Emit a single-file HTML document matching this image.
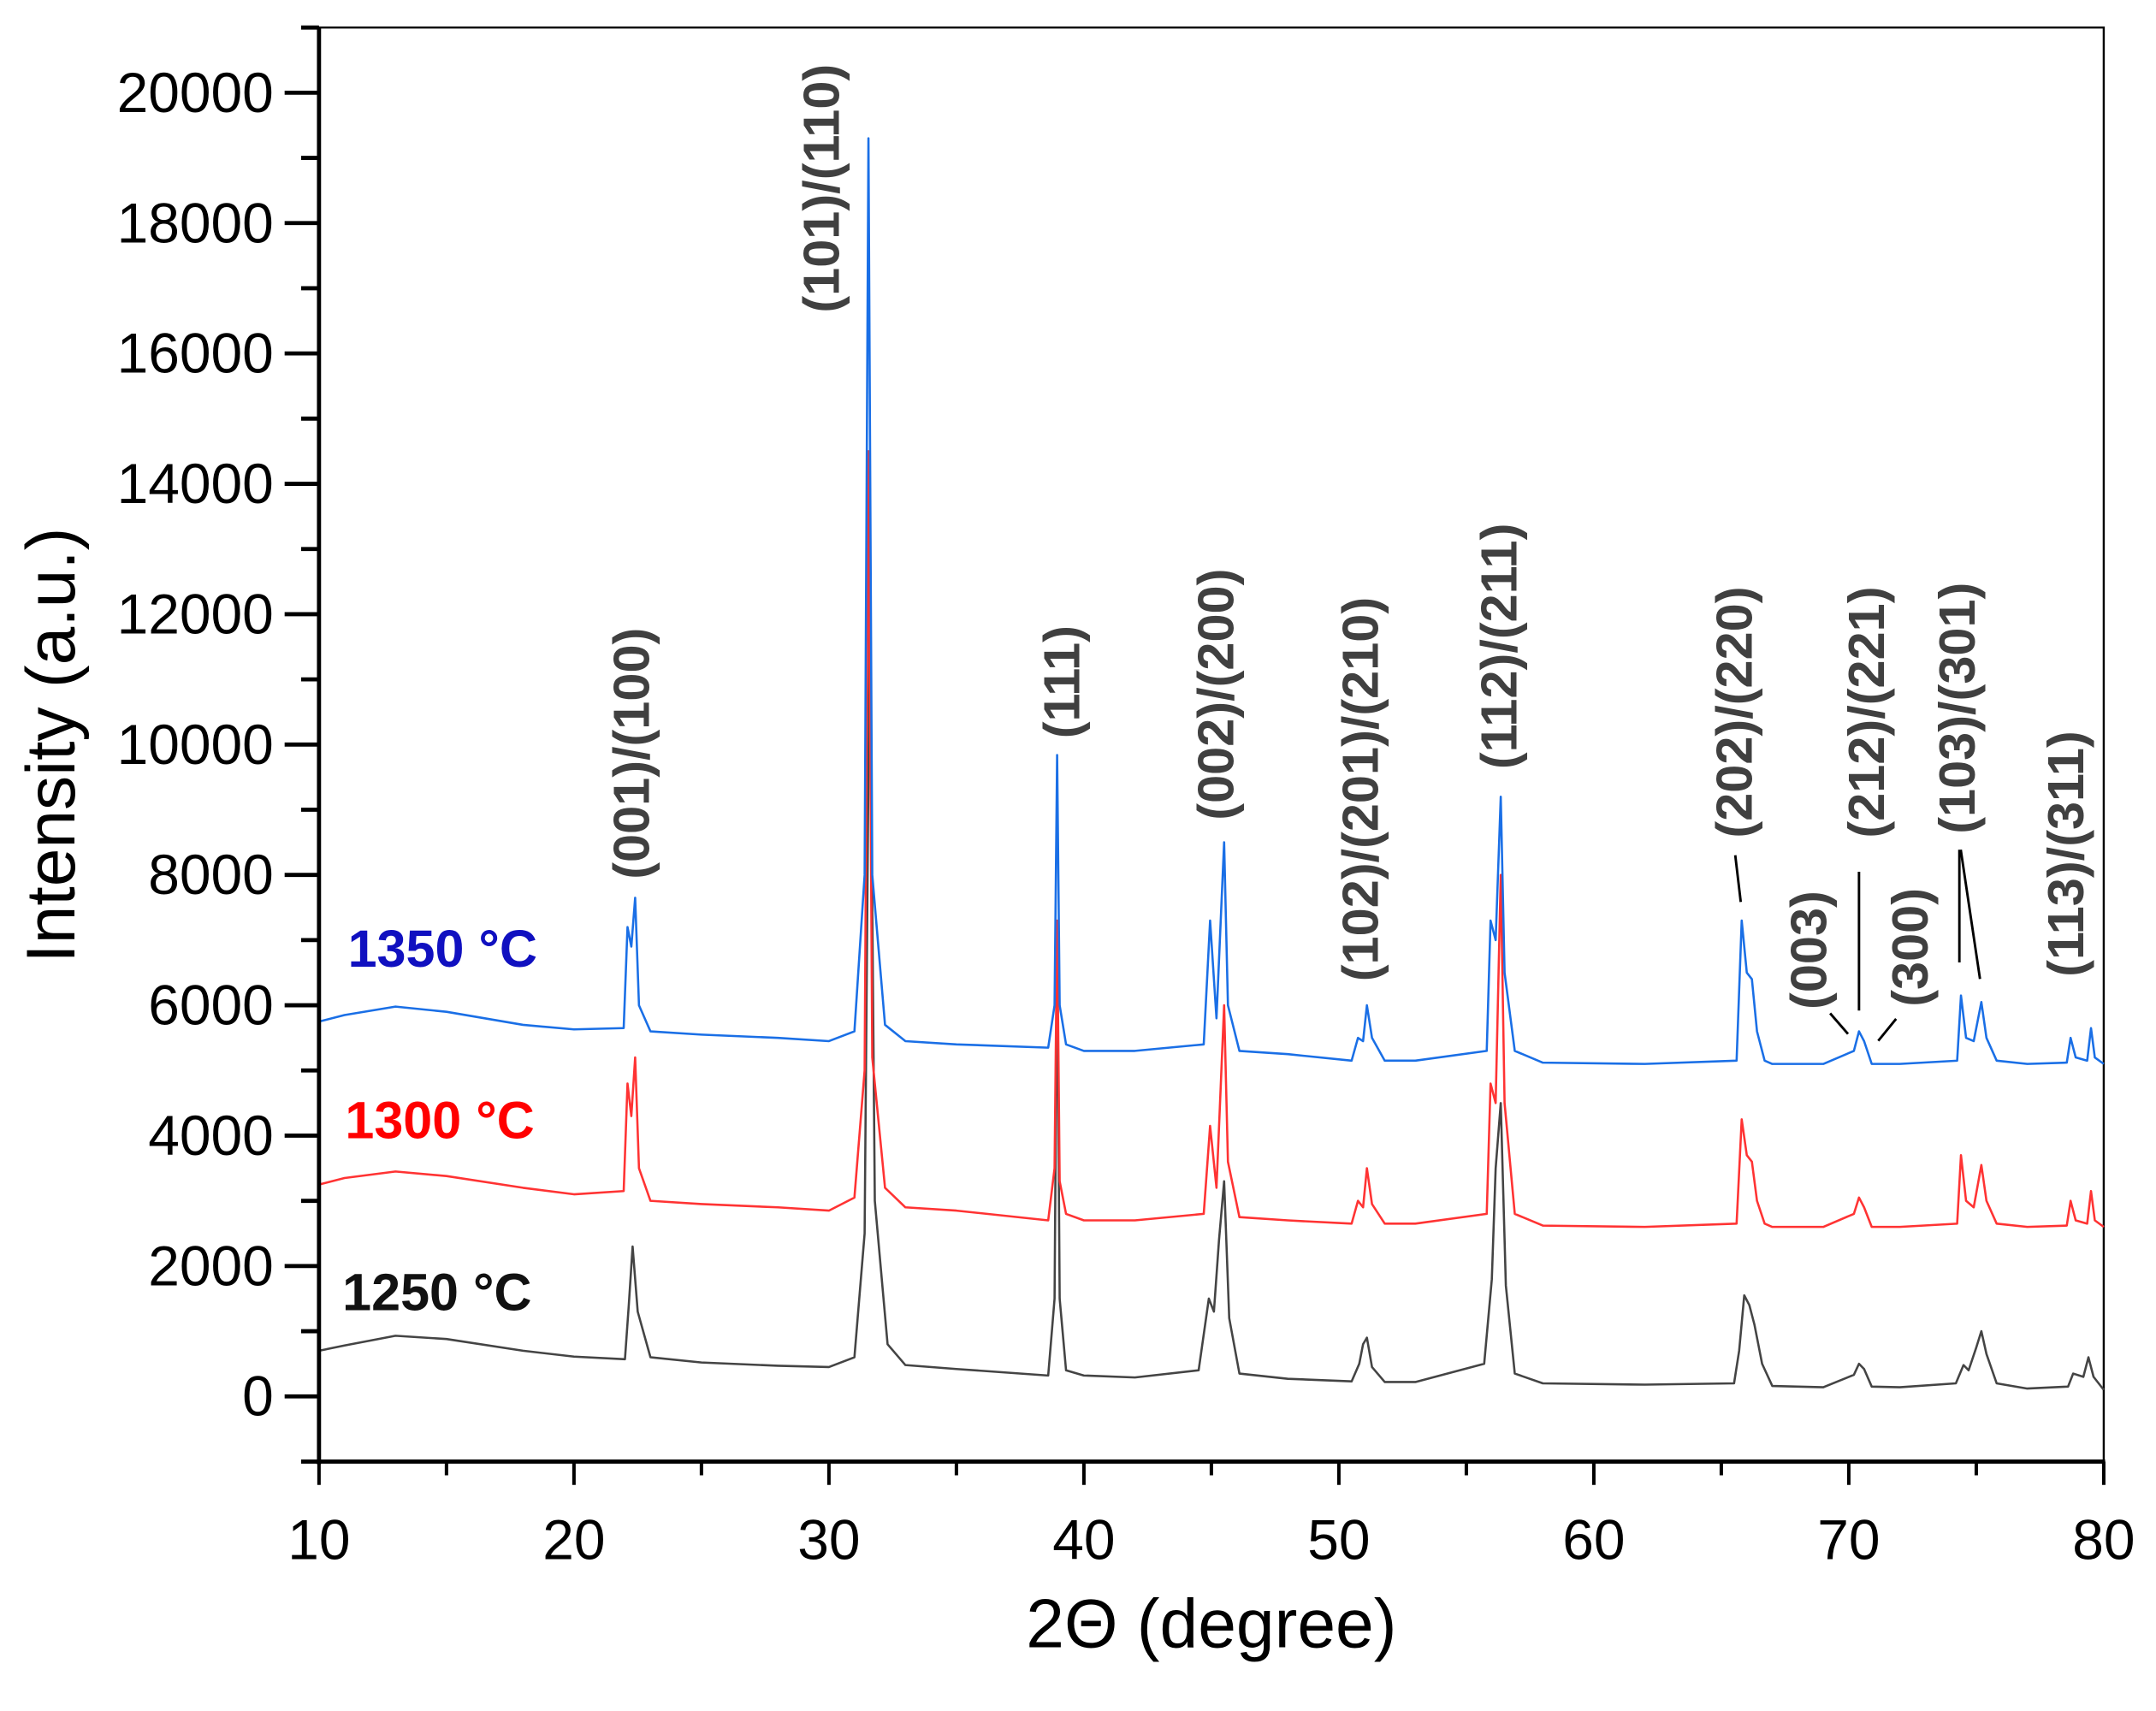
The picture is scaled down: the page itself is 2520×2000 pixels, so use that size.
<!DOCTYPE html>
<html><head><meta charset="utf-8"><style>
html,body{margin:0;padding:0;background:#fff;}
svg{display:block;font-family:"Liberation Sans",Arial,sans-serif;}
</style></head><body>
<svg id="chart" width="2520" height="2000" viewBox="0 0 1568 1244.4" xmlns="http://www.w3.org/2000/svg">
<rect x="0" y="0" width="1568" height="1244.4" fill="#fff"/>
<g id="frame"></g>
<g id="series"></g>
<g id="axes"></g>
<g id="labels"></g>
<text transform="translate(54,542) rotate(-90)" text-anchor="middle" font-size="50" fill="#000">Intensity (a.u.)</text>
<text x="881" y="1198" text-anchor="middle" font-size="50" fill="#000">2Θ (degree)</text>
<text x="253" y="703" font-size="38" font-weight="bold" fill="#1010c0">1350 °C</text>
<text x="251" y="828" font-size="38" font-weight="bold" fill="#ff0000">1300 °C</text>
<text x="249" y="953" font-size="38" font-weight="bold" fill="#111">1250 °C</text>
</svg>
<script>
const xTicks=[10,20,30,40,50,60,70,80];
const yTicks=[0,2000,4000,6000,8000,10000,12000,14000,16000,18000,20000];
const s1250X=[10,11,13,15,18,20,22,22.15,22.3,22.5,23,25,28,30,31,31.4,31.6,31.8,32.3,33,35,38.6,38.85,38.95,39.05,39.3,40,42,44.5,44.9,45.1,45.3,45.5,45.7,46.1,48,50.5,50.8,50.95,51.1,51.3,51.8,53,55.7,56,56.15,56.35,56.55,56.9,58,62,65.5,65.7,65.9,66.1,66.3,66.6,67,69,70.2,70.4,70.6,70.9,72,74.2,74.5,74.7,75,75.2,75.4,75.8,77,78.6,78.8,79.2,79.4,79.6,80];
const s1250Y=[700,780,930,880,700,610,570,1400,2300,1300,600,520,470,450,600,2500,12000,3000,800,480,420,320,1500,7000,1500,400,320,290,400,1500,1300,2400,3300,1200,350,270,230,500,800,900,450,220,220,500,1800,3500,4500,1700,350,200,180,200,700,1550,1400,1100,500,160,140,330,500,420,150,140,200,480,400,750,1000,650,200,120,150,350,300,600,300,100];
const s1300X=[10,11,13,15,18,20,21.95,22.1,22.25,22.4,22.55,23,25,28,30,31,31.4,31.55,31.7,32.2,33,35,38.6,38.85,38.95,39.05,39.3,40,42,44.7,44.95,45.2,45.5,45.65,46.1,48,50.5,50.75,50.95,51.1,51.3,51.8,53,55.8,55.95,56.15,56.35,56.5,56.9,58,62,65.6,65.8,66,66.2,66.4,66.7,67,69,70.2,70.4,70.6,70.9,72,74.25,74.4,74.6,74.9,75.2,75.4,75.8,77,78.55,78.7,78.9,79.35,79.5,79.65,80];
const s1300Y=[3250,3350,3450,3380,3200,3100,3150,4800,4300,5200,3500,3000,2950,2900,2850,3050,5000,14500,5200,3200,2900,2850,2700,3500,7300,3300,2800,2700,2700,2800,4150,3200,6000,3600,2750,2700,2650,3000,2900,3500,2950,2650,2650,2800,4800,4500,8000,4500,2800,2620,2600,2650,4250,3700,3600,3000,2650,2600,2600,2800,3050,2900,2600,2600,2650,3700,3000,2900,3550,3000,2650,2600,2620,3000,2700,2650,3150,2700,2600];
const s1350X=[10,11,13,15,18,20,21.95,22.1,22.25,22.4,22.55,23,25,28,30,31,31.4,31.55,31.7,32.2,33,35,38.6,38.85,38.95,39.05,39.3,40,42,44.7,44.95,45.2,45.5,45.65,46.1,48,50.5,50.75,50.95,51.1,51.3,51.8,53,55.8,55.95,56.15,56.35,56.5,56.9,58,62,65.6,65.8,66,66.2,66.4,66.7,67,69,70.2,70.4,70.6,70.9,72,74.25,74.4,74.6,74.9,75.2,75.4,75.8,77,78.55,78.7,78.9,79.35,79.5,79.65,80];
const s1350Y=[5750,5850,5980,5900,5700,5630,5650,7200,6900,7650,6000,5600,5550,5500,5450,5600,8000,19300,8000,5700,5450,5400,5350,6000,9840,6000,5400,5300,5300,5400,7300,5800,8500,6000,5300,5250,5150,5500,5450,6000,5500,5150,5150,5300,7300,7000,9200,6500,5300,5120,5100,5150,7300,6500,6400,5600,5150,5100,5100,5300,5600,5450,5100,5100,5150,6150,5500,5450,6050,5500,5150,5100,5120,5500,5200,5150,5650,5200,5100];
const seriesColors=["#444444","#ff3333","#1a6fe6"];

const NS="http://www.w3.org/2000/svg";
const L=232,R=1530,T=20,B=1063;
const xMin=10,xMax=80,yMin=-1000,yMax=21000;
function sx(v){return L+(v-xMin)/(xMax-xMin)*(R-L);}
function sy(v){return B-(v-yMin)/(yMax-yMin)*(B-T);}
function mk(tag,attrs,parent){const e=document.createElementNS(NS,tag);for(const k in attrs)e.setAttribute(k,attrs[k]);parent.appendChild(e);return e;}

const frame=document.getElementById('frame');
const fr=mk('rect',{x:L,y:T,width:R-L,height:B-T,fill:'none',stroke:'#000','stroke-width':1.5},frame);



const sg=document.getElementById('series');
const allX=[s1250X,s1300X,s1350X],allY=[s1250Y,s1300Y,s1350Y],names=['series-1250','series-1300','series-1350'];
for(let i=0;i<3;i++){
  let d='';
  for(let j=0;j<allX[i].length;j++){d+=(j?'L':'M')+sx(allX[i][j]).toFixed(2)+','+sy(allY[i][j]).toFixed(2);}
  const p=mk('path',{d:d,fill:'none',stroke:seriesColors[i],'stroke-width':1.6,'stroke-linejoin':'round'},sg);
  
  
}

const ax=document.getElementById('axes');
const yl=mk('line',{x1:L,y1:T,x2:L,y2:B+2,stroke:'#000','stroke-width':3},ax);


const xl=mk('line',{x1:L-2,y1:B,x2:R+1,y2:B,stroke:'#000','stroke-width':3},ax);


yTicks.forEach(v=>{
  const t=mk('line',{x1:L-25,y1:sy(v),x2:L,y2:sy(v),stroke:'#000','stroke-width':3},ax);
  
  
  const m=mk('line',{x1:L-13,y1:sy(v+1000),x2:L,y2:sy(v+1000),stroke:'#000','stroke-width':3},ax);
  
  
  const tx=mk('text',{x:199,y:sy(v)+14,'text-anchor':'end','font-size':41,fill:'#000'},ax);
  tx.textContent=v;
  
  
});
const m0=mk('line',{x1:L-13,y1:sy(-1000),x2:L,y2:sy(-1000),stroke:'#000','stroke-width':3},ax);


xTicks.forEach((v,i)=>{
  const t=mk('line',{x1:sx(v),y1:B,x2:sx(v),y2:B+17,stroke:'#000','stroke-width':2.5},ax);
  
  
  if(i<xTicks.length-1){
    const m=mk('line',{x1:sx(v+5),y1:B,x2:sx(v+5),y2:B+10,stroke:'#000','stroke-width':2.5},ax);
    
    
  }
  const tx=mk('text',{x:sx(v),y:1134,'text-anchor':'middle','font-size':41,fill:'#000'},ax);
  tx.textContent=v;
  
  
});

const peakLabels=["(001)/(100)","(101)/(110)","(111)","(002)/(200)","(102)/(201)/(210)","(112)/(211)","(202)/(220)","(003)","(212)/(221)","(300)","(103)/(301)","(113)/(311)"];
const labelPos=[[472,548],[610,137],[785,496],[897,505],[1002,574],[1103,470],[1274,518],[1328,691],[1370,518],[1402,689],[1436,515],[1515,621]];
const lg=document.getElementById('labels');
peakLabels.forEach((s,i)=>{
  const t=mk('text',{transform:`translate(${labelPos[i][0]},${labelPos[i][1]}) rotate(-90)`,'text-anchor':'middle','font-size':37,'font-weight':'bold',fill:'#404040'},lg);
  t.textContent=s;
  
  
});
const leaders=[[1262,622,1266,656],[1331,737,1344,752],[1352,634,1352,735],[1379,741,1366,757],[1425,618,1425,700],[1426,618,1440,712]];
leaders.forEach(l=>{
  const e=mk('line',{x1:l[0],y1:l[1],x2:l[2],y2:l[3],stroke:'#000','stroke-width':1.8},lg);
  
  
});
</script>
</body></html>
